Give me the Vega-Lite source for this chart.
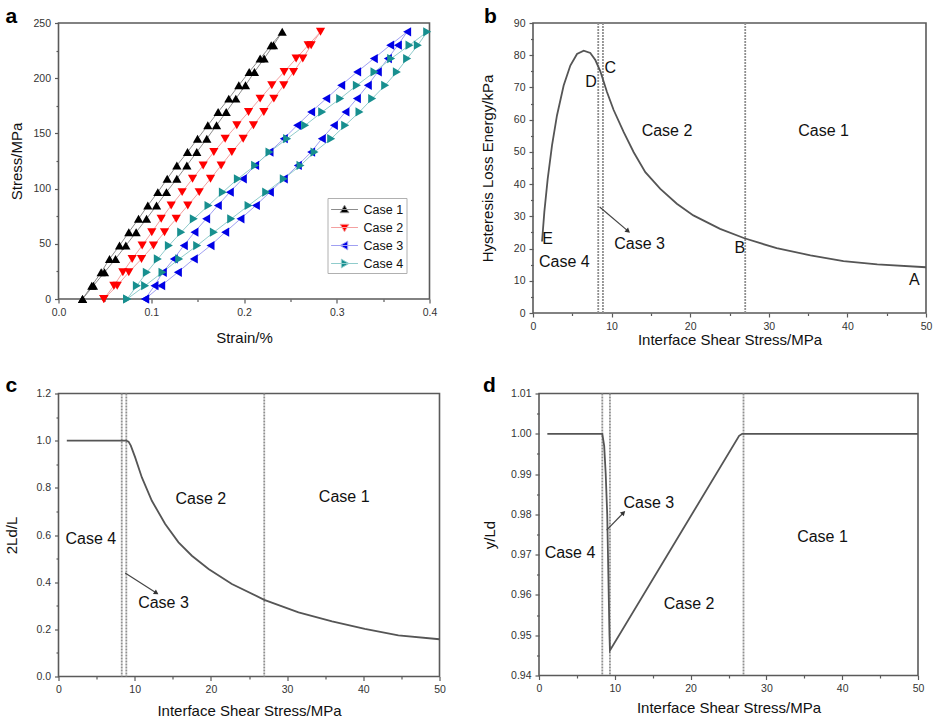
{
 "$schema": "https://vega.github.io/schema/vega-lite/v6.json",
 "padding": {"left": 3.5, "top": 4, "right": 0, "bottom": 0},
 "background": "white",
 "config": {
  "font": "Liberation Sans",
  "view": {"stroke": "#5a5a5a", "strokeWidth": 1.6},
  "axis": {"grid": false, "domain": false, "tickColor": "#5a5a5a", "tickWidth": 1.2, "tickSize": 4, "labelFontSize": 10.5, "labelColor": "#333333", "labelPadding": 4, "labelFlush": false, "labelOverlap": false, "titleFontSize": 15, "titleFontWeight": "normal", "titleColor": "#111111"},
  "title": {"fontSize": 21, "fontWeight": "bold", "anchor": "start", "frame": "bounds", "baseline": "alphabetic", "color": "#000000"}
 },
 "datasets": {
  "hyst": [
   {"c":"Case 1","x":0.0259,"y":0},{"c":"Case 1","x":0.0359,"y":12.1},{"c":"Case 1","x":0.0460,"y":24.2},{"c":"Case 1","x":0.0550,"y":36.3},{"c":"Case 1","x":0.0658,"y":48.4},{"c":"Case 1","x":0.0758,"y":60.5},{"c":"Case 1","x":0.0863,"y":72.6},{"c":"Case 1","x":0.0963,"y":84.7},{"c":"Case 1","x":0.1071,"y":96.8},{"c":"Case 1","x":0.1172,"y":108.9},{"c":"Case 1","x":0.1276,"y":121},{"c":"Case 1","x":0.1391,"y":133.1},{"c":"Case 1","x":0.1499,"y":145.2},{"c":"Case 1","x":0.1610,"y":157.3},{"c":"Case 1","x":0.1721,"y":169.4},{"c":"Case 1","x":0.1836,"y":181.5},{"c":"Case 1","x":0.1944,"y":193.6},{"c":"Case 1","x":0.2056,"y":205.7},{"c":"Case 1","x":0.2174,"y":217.8},{"c":"Case 1","x":0.2293,"y":229.9},{"c":"Case 1","x":0.2412,"y":242},
   {"c":"Case 1","x":0.2318,"y":229.9},{"c":"Case 1","x":0.2217,"y":217.8},{"c":"Case 1","x":0.2113,"y":205.7},{"c":"Case 1","x":0.2016,"y":193.6},{"c":"Case 1","x":0.1912,"y":181.5},{"c":"Case 1","x":0.1808,"y":169.4},{"c":"Case 1","x":0.1704,"y":157.3},{"c":"Case 1","x":0.1599,"y":145.2},{"c":"Case 1","x":0.1491,"y":133.1},{"c":"Case 1","x":0.1384,"y":121},{"c":"Case 1","x":0.1276,"y":108.9},{"c":"Case 1","x":0.1164,"y":96.8},{"c":"Case 1","x":0.1057,"y":84.7},{"c":"Case 1","x":0.0949,"y":72.6},{"c":"Case 1","x":0.0837,"y":60.5},{"c":"Case 1","x":0.0726,"y":48.4},{"c":"Case 1","x":0.0615,"y":36.3},{"c":"Case 1","x":0.0496,"y":24.2},{"c":"Case 1","x":0.0377,"y":12.1},{"c":"Case 1","x":0.0259,"y":0},
   {"c":"Case 2","x":0.0489,"y":0},{"c":"Case 2","x":0.0597,"y":12.1},{"c":"Case 2","x":0.0694,"y":24.2},{"c":"Case 2","x":0.0794,"y":36.3},{"c":"Case 2","x":0.0902,"y":48.4},{"c":"Case 2","x":0.1006,"y":60.5},{"c":"Case 2","x":0.1107,"y":72.6},{"c":"Case 2","x":0.1215,"y":84.7},{"c":"Case 2","x":0.1333,"y":96.8},{"c":"Case 2","x":0.1445,"y":108.9},{"c":"Case 2","x":0.1560,"y":121},{"c":"Case 2","x":0.1675,"y":133.1},{"c":"Case 2","x":0.1797,"y":145.2},{"c":"Case 2","x":0.1923,"y":157.3},{"c":"Case 2","x":0.2049,"y":169.4},{"c":"Case 2","x":0.2174,"y":181.5},{"c":"Case 2","x":0.2300,"y":193.6},{"c":"Case 2","x":0.2433,"y":205.7},{"c":"Case 2","x":0.2562,"y":217.8},{"c":"Case 2","x":0.2692,"y":229.9},{"c":"Case 2","x":0.2825,"y":242},
   {"c":"Case 2","x":0.2724,"y":229.9},{"c":"Case 2","x":0.2634,"y":217.8},{"c":"Case 2","x":0.2534,"y":205.7},{"c":"Case 2","x":0.2429,"y":193.6},{"c":"Case 2","x":0.2322,"y":181.5},{"c":"Case 2","x":0.2214,"y":169.4},{"c":"Case 2","x":0.2102,"y":157.3},{"c":"Case 2","x":0.1991,"y":145.2},{"c":"Case 2","x":0.1869,"y":133.1},{"c":"Case 2","x":0.1754,"y":121},{"c":"Case 2","x":0.1639,"y":108.9},{"c":"Case 2","x":0.1517,"y":96.8},{"c":"Case 2","x":0.1394,"y":84.7},{"c":"Case 2","x":0.1269,"y":72.6},{"c":"Case 2","x":0.1143,"y":60.5},{"c":"Case 2","x":0.1024,"y":48.4},{"c":"Case 2","x":0.0895,"y":36.3},{"c":"Case 2","x":0.0758,"y":24.2},{"c":"Case 2","x":0.0633,"y":12.1},{"c":"Case 2","x":0.0489,"y":0},
   {"c":"Case 3","x":0.0934,"y":0},{"c":"Case 3","x":0.1035,"y":12.1},{"c":"Case 3","x":0.1125,"y":24.2},{"c":"Case 3","x":0.1243,"y":36.3},{"c":"Case 3","x":0.1351,"y":48.4},{"c":"Case 3","x":0.1466,"y":60.5},{"c":"Case 3","x":0.1592,"y":72.6},{"c":"Case 3","x":0.1718,"y":84.7},{"c":"Case 3","x":0.1847,"y":96.8},{"c":"Case 3","x":0.1987,"y":108.9},{"c":"Case 3","x":0.2120,"y":121},{"c":"Case 3","x":0.2275,"y":133.1},{"c":"Case 3","x":0.2429,"y":145.2},{"c":"Case 3","x":0.2573,"y":157.3},{"c":"Case 3","x":0.2724,"y":169.4},{"c":"Case 3","x":0.2886,"y":181.5},{"c":"Case 3","x":0.3048,"y":193.6},{"c":"Case 3","x":0.3220,"y":205.7},{"c":"Case 3","x":0.3400,"y":217.8},{"c":"Case 3","x":0.3576,"y":229.9},{"c":"Case 3","x":0.3759,"y":242},
   {"c":"Case 3","x":0.3659,"y":229.9},{"c":"Case 3","x":0.3551,"y":217.8},{"c":"Case 3","x":0.3443,"y":205.7},{"c":"Case 3","x":0.3335,"y":193.6},{"c":"Case 3","x":0.3217,"y":181.5},{"c":"Case 3","x":0.3094,"y":169.4},{"c":"Case 3","x":0.2969,"y":157.3},{"c":"Case 3","x":0.2839,"y":145.2},{"c":"Case 3","x":0.2724,"y":133.1},{"c":"Case 3","x":0.2580,"y":121},{"c":"Case 3","x":0.2429,"y":108.9},{"c":"Case 3","x":0.2279,"y":96.8},{"c":"Case 3","x":0.2128,"y":84.7},{"c":"Case 3","x":0.1962,"y":72.6},{"c":"Case 3","x":0.1797,"y":60.5},{"c":"Case 3","x":0.1639,"y":48.4},{"c":"Case 3","x":0.1459,"y":36.3},{"c":"Case 3","x":0.1287,"y":24.2},{"c":"Case 3","x":0.1107,"y":12.1},{"c":"Case 3","x":0.0934,"y":0},
   {"c":"Case 4","x":0.0740,"y":0},{"c":"Case 4","x":0.0845,"y":12.1},{"c":"Case 4","x":0.0952,"y":24.2},{"c":"Case 4","x":0.1071,"y":36.3},{"c":"Case 4","x":0.1190,"y":48.4},{"c":"Case 4","x":0.1323,"y":60.5},{"c":"Case 4","x":0.1459,"y":72.6},{"c":"Case 4","x":0.1617,"y":84.7},{"c":"Case 4","x":0.1772,"y":96.8},{"c":"Case 4","x":0.1934,"y":108.9},{"c":"Case 4","x":0.2120,"y":121},{"c":"Case 4","x":0.2275,"y":133.1},{"c":"Case 4","x":0.2465,"y":145.2},{"c":"Case 4","x":0.2659,"y":157.3},{"c":"Case 4","x":0.2843,"y":169.4},{"c":"Case 4","x":0.3037,"y":181.5},{"c":"Case 4","x":0.3217,"y":193.6},{"c":"Case 4","x":0.3407,"y":205.7},{"c":"Case 4","x":0.3587,"y":217.8},{"c":"Case 4","x":0.3784,"y":229.9},{"c":"Case 4","x":0.3975,"y":242},
   {"c":"Case 4","x":0.3874,"y":229.9},{"c":"Case 4","x":0.3759,"y":217.8},{"c":"Case 4","x":0.3648,"y":205.7},{"c":"Case 4","x":0.3522,"y":193.6},{"c":"Case 4","x":0.3382,"y":181.5},{"c":"Case 4","x":0.3245,"y":169.4},{"c":"Case 4","x":0.3091,"y":157.3},{"c":"Case 4","x":0.2940,"y":145.2},{"c":"Case 4","x":0.2760,"y":133.1},{"c":"Case 4","x":0.2609,"y":121},{"c":"Case 4","x":0.2429,"y":108.9},{"c":"Case 4","x":0.2239,"y":96.8},{"c":"Case 4","x":0.2049,"y":84.7},{"c":"Case 4","x":0.1862,"y":72.6},{"c":"Case 4","x":0.1675,"y":60.5},{"c":"Case 4","x":0.1495,"y":48.4},{"c":"Case 4","x":0.1301,"y":36.3},{"c":"Case 4","x":0.1121,"y":24.2},{"c":"Case 4","x":0.0934,"y":12.1},{"c":"Case 4","x":0.0740,"y":0}
  ],
  "curveB": [
   {"x":1.15,"y":22.2},{"x":1.44,"y":31.3},{"x":1.87,"y":41.6},{"x":2.42,"y":52.0},{"x":3.05,"y":61.3},{"x":3.90,"y":70.6},{"x":4.75,"y":76.8},{"x":5.60,"y":80.4},{"x":6.45,"y":81.4},{"x":7.29,"y":80.7},{"x":7.93,"y":78.5},{"x":8.57,"y":75.0},{"x":9.41,"y":68.6},{"x":10.26,"y":63.0},{"x":11.54,"y":56.1},{"x":12.81,"y":49.9},{"x":14.29,"y":43.7},{"x":16.2,"y":38.5},{"x":18.3,"y":33.9},{"x":20.4,"y":30.3},{"x":23.8,"y":26.1},{"x":26.9,"y":23.2},{"x":31.0,"y":20.1},{"x":35.3,"y":17.9},{"x":39.5,"y":16.1},{"x":43.8,"y":15.1},{"x":50.0,"y":14.2}
  ],
  "vlB": [{"x":8.3},{"x":8.9},{"x":27.0}],
  "arrowB": [{"x":8.48,"y":32.9,"h":0},{"x":12.1,"y":25.4,"h":1}],
  "textB": [
   {"x":9.84,"y":76.0,"t":"C"},{"x":7.38,"y":71.6,"t":"D"},{"x":17.05,"y":56.4,"t":"Case 2"},{"x":36.98,"y":56.4,"t":"Case 1"},{"x":1.87,"y":23.0,"t":"E"},{"x":3.99,"y":15.8,"t":"Case 4"},{"x":13.57,"y":21.5,"t":"Case 3"},{"x":26.3,"y":20.1,"t":"B"},{"x":48.5,"y":10.1,"t":"A"}
  ],
  "curveC": [
   {"x":1.09,"y":1.0},{"x":8.88,"y":1.0},{"x":9.19,"y":0.996},{"x":9.49,"y":0.979},{"x":10.06,"y":0.929},{"x":10.94,"y":0.844},{"x":12.25,"y":0.745},{"x":14.0,"y":0.647},{"x":15.75,"y":0.569},{"x":17.5,"y":0.512},{"x":19.69,"y":0.456},{"x":22.75,"y":0.392},{"x":27.0,"y":0.325},{"x":31.5,"y":0.272},{"x":35.9,"y":0.234},{"x":40.2,"y":0.202},{"x":44.6,"y":0.174},{"x":50.0,"y":0.158}
  ],
  "vlC": [{"x":8.3},{"x":8.9},{"x":27.0}],
  "arrowC": [{"x":8.75,"y":0.439,"h":0},{"x":12.85,"y":0.354,"h":1}],
  "textC": [
   {"x":18.68,"y":0.753,"t":"Case 2"},{"x":37.49,"y":0.760,"t":"Case 1"},{"x":4.24,"y":0.583,"t":"Case 4"},{"x":13.78,"y":0.312,"t":"Case 3"}
  ],
  "curveD": [
   {"x":1.1,"y":1.0},{"x":8.35,"y":1.0},{"x":8.6,"y":0.997},{"x":8.8,"y":0.990},{"x":9.0,"y":0.980},{"x":9.15,"y":0.965},{"x":9.3,"y":0.950},{"x":9.36,"y":0.9462},{"x":26.4,"y":0.9995},{"x":26.8,"y":1.0},{"x":50.0,"y":1.0}
  ],
  "vlD": [{"x":8.35},{"x":9.36},{"x":26.98}],
  "arrowD": [{"x":8.92,"y":0.9761,"h":0},{"x":11.15,"y":0.9804,"h":1}],
  "textD": [
   {"x":14.5,"y":0.9827,"t":"Case 3"},{"x":4.09,"y":0.9703,"t":"Case 4"},{"x":37.4,"y":0.9743,"t":"Case 1"},{"x":19.8,"y":0.9578,"t":"Case 2"}
  ]
 },
 "spacing": 25.5,
 "vconcat": [
  {
   "spacing": 40.5,
   "hconcat": [
    {
     "width": 371, "height": 276,
     "title": {"text": "a", "offset": -8.5, "dx": -4},
     "data": {"name": "hyst"},
     "layer": [
      {
       "mark": {"type": "line", "strokeWidth": 1},
       "encoding": {
        "x": {"field": "x", "type": "quantitative", "scale": {"domain": [0, 0.4], "nice": false, "zero": false}, "axis": {"orient": "bottom", "values": [0.05, 0.15, 0.25, 0.35], "labels": false, "tickSize": 2.5, "title": null}},
        "y": {"field": "y", "type": "quantitative", "scale": {"domain": [0, 250], "nice": false}, "axis": {"orient": "left", "values": [25, 75, 125, 175, 225], "labels": false, "tickSize": 2.5, "title": null}},
        "stroke": {"field": "c", "type": "nominal", "scale": {"range": ["#8c8c8c", "#f4a0a0", "#a0a0f2", "#90cccc"]}, "legend": null},
        "order": {"value": null}
       }
      },
      {
       "mark": {"type": "point", "filled": true, "size": 85, "opacity": 1},
       "encoding": {
        "x": {"field": "x", "type": "quantitative", "axis": {"orient": "bottom", "values": [0, 0.1, 0.2, 0.3, 0.4], "format": ".1f", "title": "Strain/%", "minExtent": 20, "maxExtent": 20, "titlePadding": 11}},
        "y": {"field": "y", "type": "quantitative", "axis": {"orient": "left", "values": [0, 50, 100, 150, 200, 250], "title": "Stress/MPa", "minExtent": 26, "maxExtent": 26, "titlePadding": 8}},
        "color": {"field": "c", "type": "nominal", "scale": {"range": ["#000000", "#ff0000", "#0000e6", "#178f8f"]}, "legend": null},
        "shape": {"field": "c", "type": "nominal", "scale": {"range": ["triangle-up", "triangle-down", "triangle-left", "triangle-right"]}, "legend": null}
       }
      },
      {
       "transform": [{"filter": "false"}],
       "mark": {"type": "point", "filled": true, "opacity": 1},
       "encoding": {
        "shape": {"field": "c", "type": "nominal", "scale": {"domain": ["Case 1", "Case 2", "Case 3", "Case 4"], "range": ["M-1,0H2.4M0.7,-0.55L1.25,0.4L0.15,0.4Z", "M-1,0H2.4M0.7,0.55L1.25,-0.4L0.15,-0.4Z", "M-1,0H2.4M0.15,0L1.1,-0.55L1.1,0.55Z", "M-1,0H2.4M1.25,0L0.3,-0.55L0.3,0.55Z"]},
         "legend": {"title": null, "orient": "none", "legendX": 269, "legendY": 175, "strokeColor": "#b0b0b0", "padding": 3, "labelFontSize": 12.5, "labelColor": "#111111", "symbolSize": 250, "symbolStrokeWidth": 1, "labelOffset": 16, "rowPadding": 3}},
        "fill": {"field": "c", "type": "nominal", "scale": {"domain": ["Case 1", "Case 2", "Case 3", "Case 4"], "range": ["#000000", "#ff0000", "#0000e6", "#178f8f"]},
         "legend": {"title": null, "orient": "none", "legendX": 269, "legendY": 175, "strokeColor": "#b0b0b0", "padding": 3, "labelFontSize": 12.5, "labelColor": "#111111", "symbolSize": 250, "symbolStrokeWidth": 1, "labelOffset": 16, "rowPadding": 3}},
        "stroke": {"field": "c", "type": "nominal", "scale": {"domain": ["Case 1", "Case 2", "Case 3", "Case 4"], "range": ["#8c8c8c", "#f4a0a0", "#a0a0f2", "#90cccc"]},
         "legend": {"title": null, "orient": "none", "legendX": 269, "legendY": 175, "strokeColor": "#b0b0b0", "padding": 3, "labelFontSize": 12.5, "labelColor": "#111111", "symbolSize": 250, "symbolStrokeWidth": 1, "labelOffset": 16, "rowPadding": 3}}
       }
      }
     ],
     "resolve": {"axis": {"x": "independent", "y": "independent"}, "scale": {"shape": "independent", "fill": "independent", "stroke": "independent", "color": "independent"}}
    },
    {
     "width": 393, "height": 290,
     "title": {"text": "b", "offset": -8.5, "dx": 4},
     "layer": [
      {"data": {"name": "vlB"}, "mark": {"type": "rule", "stroke": "#8f8f8f", "strokeWidth": 1.8, "strokeDash": [2, 1]},
       "encoding": {"x": {"field": "x", "type": "quantitative", "axis": null}}},
      {"data": {"name": "curveB"}, "mark": {"type": "line", "stroke": "#555555", "strokeWidth": 1.8},
       "encoding": {
        "x": {"field": "x", "type": "quantitative", "scale": {"domain": [0, 50], "nice": false}, "axis": {"orient": "bottom", "values": [0, 10, 20, 30, 40, 50], "title": "Interface Shear Stress/MPa", "minExtent": 16, "maxExtent": 16, "titlePadding": 3}},
        "y": {"field": "y", "type": "quantitative", "scale": {"domain": [0, 90], "nice": false}, "axis": {"orient": "left", "values": [0, 10, 20, 30, 40, 50, 60, 70, 80, 90], "title": "Hysteresis Loss Energy/kPa", "minExtent": 26, "maxExtent": 26, "titlePadding": 12}},
        "order": {"value": null}}},
      {"data": {"name": "arrowB"}, "mark": {"type": "line", "stroke": "#444444", "strokeWidth": 1.2},
       "encoding": {"x": {"field": "x", "type": "quantitative", "axis": null}, "y": {"field": "y", "type": "quantitative", "axis": null}, "order": {"value": null}}},
      {"data": {"name": "arrowB"}, "transform": [{"filter": "datum.h == 1"}], "mark": {"type": "point", "shape": "triangle-up", "filled": true, "color": "#333333", "size": 30, "angle": 130, "opacity": 1},
       "encoding": {"x": {"field": "x", "type": "quantitative", "axis": null}, "y": {"field": "y", "type": "quantitative", "axis": null}}},
      {"data": {"name": "textB"}, "mark": {"type": "text", "fontSize": 16, "color": "#111111"},
       "encoding": {
        "x": {"field": "x", "type": "quantitative", "axis": {"orient": "bottom", "values": [5, 15, 25, 35, 45], "labels": false, "tickSize": 2.5, "title": null}},
        "y": {"field": "y", "type": "quantitative", "axis": {"orient": "left", "values": [5, 15, 25, 35, 45, 55, 65, 75, 85], "labels": false, "tickSize": 2.5, "title": null}},
        "text": {"field": "t"}}}
     ],
     "resolve": {"axis": {"x": "independent", "y": "independent"}}
    }
   ]
  },
  {
   "spacing": 34.5,
   "hconcat": [
    {
     "width": 381, "height": 283,
     "title": {"text": "c", "offset": -7, "dx": 1},
     "layer": [
      {"data": {"name": "vlC"}, "mark": {"type": "rule", "stroke": "#8f8f8f", "strokeWidth": 1.8, "strokeDash": [2, 1]},
       "encoding": {"x": {"field": "x", "type": "quantitative", "axis": null}}},
      {"data": {"name": "curveC"}, "mark": {"type": "line", "stroke": "#555555", "strokeWidth": 1.8},
       "encoding": {
        "x": {"field": "x", "type": "quantitative", "scale": {"domain": [0, 50], "nice": false}, "axis": {"orient": "bottom", "values": [0, 10, 20, 30, 40, 50], "title": "Interface Shear Stress/MPa", "minExtent": 20, "maxExtent": 20, "titlePadding": 7}},
        "y": {"field": "y", "type": "quantitative", "scale": {"domain": [0, 1.2], "nice": false}, "axis": {"orient": "left", "values": [0, 0.2, 0.4, 0.6, 0.8, 1.0, 1.2], "format": ".1f", "title": "2Ld/L", "minExtent": 26, "maxExtent": 26, "titlePadding": 13}},
        "order": {"value": null}}},
      {"data": {"name": "arrowC"}, "mark": {"type": "line", "stroke": "#444444", "strokeWidth": 1.2},
       "encoding": {"x": {"field": "x", "type": "quantitative", "axis": null}, "y": {"field": "y", "type": "quantitative", "axis": null}, "order": {"value": null}}},
      {"data": {"name": "arrowC"}, "transform": [{"filter": "datum.h == 1"}], "mark": {"type": "point", "shape": "triangle-up", "filled": true, "color": "#333333", "size": 30, "angle": 123, "opacity": 1},
       "encoding": {"x": {"field": "x", "type": "quantitative", "axis": null}, "y": {"field": "y", "type": "quantitative", "axis": null}}},
      {"data": {"name": "textC"}, "mark": {"type": "text", "fontSize": 16, "color": "#111111"},
       "encoding": {
        "x": {"field": "x", "type": "quantitative", "axis": {"orient": "bottom", "values": [5, 15, 25, 35, 45], "labels": false, "tickSize": 2.5, "title": null}},
        "y": {"field": "y", "type": "quantitative", "axis": {"orient": "left", "values": [0.1, 0.3, 0.5, 0.7, 0.9, 1.1], "labels": false, "tickSize": 2.5, "title": null}},
        "text": {"field": "t"}}}
     ],
     "resolve": {"axis": {"x": "independent", "y": "independent"}}
    },
    {
     "width": 379, "height": 282,
     "title": {"text": "d", "offset": -7.5, "dx": 1},
     "layer": [
      {"data": {"name": "vlD"}, "mark": {"type": "rule", "stroke": "#8f8f8f", "strokeWidth": 1.8, "strokeDash": [2, 1]},
       "encoding": {"x": {"field": "x", "type": "quantitative", "axis": null}}},
      {"data": {"name": "curveD"}, "mark": {"type": "line", "stroke": "#555555", "strokeWidth": 1.8},
       "encoding": {
        "x": {"field": "x", "type": "quantitative", "scale": {"domain": [0, 50], "nice": false}, "axis": {"orient": "bottom", "values": [0, 10, 20, 30, 40, 50], "title": "Interface Shear Stress/MPa", "minExtent": 20, "maxExtent": 20, "titlePadding": 4.5}},
        "y": {"field": "y", "type": "quantitative", "scale": {"domain": [0.94, 1.01], "nice": false, "zero": false}, "axis": {"orient": "left", "values": [0.94, 0.95, 0.96, 0.97, 0.98, 0.99, 1.0, 1.01], "format": ".2f", "title": "y/Ld", "minExtent": 26, "maxExtent": 26, "titlePadding": 16}},
        "order": {"value": null}}},
      {"data": {"name": "arrowD"}, "mark": {"type": "line", "stroke": "#444444", "strokeWidth": 1.2},
       "encoding": {"x": {"field": "x", "type": "quantitative", "axis": null}, "y": {"field": "y", "type": "quantitative", "axis": null}, "order": {"value": null}}},
      {"data": {"name": "arrowD"}, "transform": [{"filter": "datum.h == 1"}], "mark": {"type": "point", "shape": "triangle-up", "filled": true, "color": "#333333", "size": 30, "angle": 45, "opacity": 1},
       "encoding": {"x": {"field": "x", "type": "quantitative", "axis": null}, "y": {"field": "y", "type": "quantitative", "axis": null}}},
      {"data": {"name": "textD"}, "mark": {"type": "text", "fontSize": 16, "color": "#111111"},
       "encoding": {
        "x": {"field": "x", "type": "quantitative", "axis": {"orient": "bottom", "values": [5, 15, 25, 35, 45], "labels": false, "tickSize": 2.5, "title": null}},
        "y": {"field": "y", "type": "quantitative", "axis": {"orient": "left", "values": [0.945, 0.955, 0.965, 0.975, 0.985, 0.995, 1.005], "labels": false, "tickSize": 2.5, "title": null}},
        "text": {"field": "t"}}}
     ],
     "resolve": {"axis": {"x": "independent", "y": "independent"}}
    }
   ]
  }
 ]
}
